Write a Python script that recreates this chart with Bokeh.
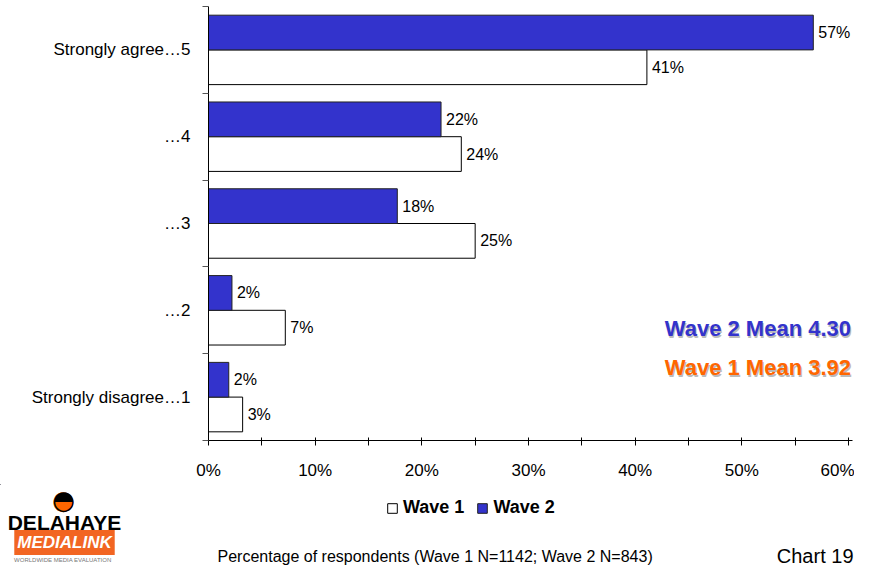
from bokeh.plotting import figure
from bokeh.layouts import column
from bokeh.models import (ColumnDataSource, FixedTicker, PrintfTickFormatter, Label,
                          LabelSet, Legend, LegendItem, Range1d)
from bokeh.core.properties import value
from bokeh.embed import file_html
from bokeh.resources import INLINE

# ---------------- data ----------------
categories = ["Strongly agree\u20265", "\u20264", "\u20263", "\u20262", "Strongly disagree\u20261"]
wave1 = [41.1, 23.7, 25.0, 7.2, 3.2]
wave2 = [56.7, 21.8, 17.7, 2.2, 1.9]
x_ticks = [0, 10, 20, 30, 40, 50, 60]
x_minor = [5, 15, 25, 35, 45, 55]
series_names = ["Wave 1", "Wave 2"]
mean_wave2 = "Wave 2 Mean 4.30"
mean_wave1 = "Wave 1 Mean 3.92"
footnote = "Percentage of respondents (Wave 1 N=1142; Wave 2 N=843)"
chart_no = "Chart 19"

BLUE = "#3333CC"
ORANGE = "#FF6600"
FONT = "Liberation Sans"

# ---------------- layout constants ----------------
W = 854
TOP, LEFT = 6, 208
FH = 434                      # frame height (6 -> 440)
PX_PER_PCT = 640 / 60         # 0% at 208, 60% at 848
FW = 644                      # frame reaches 852 so the "57%" label is not cut
RIGHT = W - LEFT - FW
BOTTOM = 44
H1 = TOP + FH + BOTTOM
H2 = 566 - H1
n = len(categories)
XEND = FW / PX_PER_PCT


def dx(page_x):
    return (page_x - LEFT) / PX_PER_PCT


def dy(page_y):
    return (TOP + FH - page_y) / FH * n


centers = [n - i - 0.5 for i in range(n)]
src1 = ColumnDataSource(dict(y=[c - 0.2 for c in centers], v=wave1,
                             lab=[f"{round(v)}%" for v in wave1]))
src2 = ColumnDataSource(dict(y=[c + 0.2 for c in centers], v=wave2,
                             lab=[f"{round(v)}%" for v in wave2]))

p = figure(width=W, height=H1, output_backend="svg", toolbar_location=None,
           x_range=Range1d(0, XEND), y_range=Range1d(0, n),
           min_border_left=LEFT, min_border_right=RIGHT, min_border_top=TOP,
           min_border_bottom=BOTTOM)
p.outline_line_color = None
p.xgrid.visible = False
p.ygrid.visible = False

r1 = p.hbar(y="y", right="v", left=0, height=0.4, source=src1,
            fill_color="white", line_color="black", line_width=1)
r2 = p.hbar(y="y", right="v", left=0, height=0.4, source=src2,
            fill_color=BLUE, line_color="#222222", line_width=1)

for s in (src1, src2):
    p.add_layout(LabelSet(x="v", y="y", text="lab", source=s, x_offset=5,
                          text_baseline="middle", text_align="left",
                          text_font=value(FONT), text_font_size=value("16px"),
                          text_color="black"))

# x axis
xa = p.xaxis[0]
xa.ticker = FixedTicker(ticks=x_ticks, minor_ticks=x_minor)
xa.formatter = PrintfTickFormatter(format="%d%%")
xa.axis_line_color = "black"
xa.major_tick_line_color = "black"
xa.minor_tick_line_color = "black"
xa.major_tick_in = 3
xa.major_tick_out = 5
xa.minor_tick_in = 3
xa.minor_tick_out = 5
xa.major_label_standoff = 15
xa.major_label_text_font = FONT
xa.major_label_text_font_size = "17px"
xa.major_label_text_color = "black"

# y axis
ya = p.yaxis[0]
ya.ticker = FixedTicker(ticks=centers, minor_ticks=list(range(n + 1)))
ya.major_label_overrides = {c: lab for c, lab in zip(centers, categories)}
ya.axis_line_color = "black"
ya.major_tick_in = 0
ya.major_tick_out = 0
ya.minor_tick_in = 0
ya.minor_tick_out = 6
ya.minor_tick_line_color = "#555555"
ya.major_label_standoff = 12
ya.major_label_text_font = FONT
ya.major_label_text_font_size = "17px"
ya.major_label_text_color = "black"

# mean annotations (with subtle shadow)
for txt, col, yy in ((mean_wave2, BLUE, 328), (mean_wave1, ORANGE, 367)):
    p.add_layout(Label(x=dx(851.5), y=dy(yy + 1.5), text=txt, text_align="right",
                       text_baseline="middle", text_font=FONT, text_font_style="bold",
                       text_font_size="22px", text_color="#BBBBBB"))
    p.add_layout(Label(x=dx(850.5), y=dy(yy), text=txt, text_align="right",
                       text_baseline="middle", text_font=FONT, text_font_style="bold",
                       text_font_size="22px", text_color=col))

# ---------------- bottom strip: legend, footnote, logo ----------------
q = figure(frame_width=W, frame_height=H2, output_backend="svg", toolbar_location=None,
           x_range=Range1d(0, W), y_range=Range1d(H1 + H2, H1),
           min_border_left=0, min_border_right=0, min_border_top=0, min_border_bottom=0)
q.axis.visible = False
q.xgrid.visible = False
q.ygrid.visible = False
q.outline_line_color = None
for fig in (p, q):
    if "frame_align" in fig.properties():
        fig.frame_align = False

# legend proxies: one off-canvas bar per series so that the legend can draw its swatch
proxy = ColumnDataSource(dict(y=[-1000], l=[-1000], r=[-999]))
d1 = q.hbar(y="y", left="l", right="r", height=1, source=proxy,
            fill_color="white", line_color="black")
d2 = q.hbar(y="y", left="l", right="r", height=1, source=proxy,
            fill_color=BLUE, line_color="#222222")
legend = Legend(items=[LegendItem(label=series_names[0], renderers=[d1]),
                       LegendItem(label=series_names[1], renderers=[d2])],
                orientation="horizontal", location=(386, H1 + H2 - 518),
                glyph_width=12, glyph_height=12, label_standoff=5, spacing=12,
                label_height=20, padding=0, margin=0, border_line_alpha=0,
                background_fill_alpha=0,
                label_text_font=FONT, label_text_font_style="bold",
                label_text_font_size="18px", label_text_color="black")
q.add_layout(legend)

q.add_layout(Label(x=217, y=556, text=footnote, text_align="left",
                   text_baseline="middle", text_font=FONT, text_font_size="16px",
                   text_color="black"))
q.add_layout(Label(x=853, y=555, text=chart_no, text_align="right",
                   text_baseline="middle", text_font=FONT, text_font_size="20px",
                   text_color="black"))

# logo (compressed a little to fit the page height)
q.add_layout(Label(x=63, y=499, text="\u25CF", text_align="center",
                   text_baseline="middle", text_font="DejaVu Sans", text_font_size="26px",
                   text_color=ORANGE))
q.add_layout(Label(x=63, y=499, text="\u25D3", text_align="center",
                   text_baseline="middle", text_font="DejaVu Sans", text_font_size="26px",
                   text_color="black"))
q.add_layout(Label(x=64, y=522, text="DELAHAYE", text_align="center",
                   text_baseline="middle", text_font=FONT, text_font_style="bold",
                   text_font_size="21px", text_color="black"))
q.add_layout(Label(x=64, y=542, text="MEDIALINK", text_align="center",
                   text_baseline="middle", text_font=FONT, text_font_style="bold italic",
                   text_font_size="17px", text_color="white",
                   background_fill_color="#F26522", padding=3))
q.add_layout(Label(x=64, y=559, text="WORLDWIDE  MEDIA  EVALUATION", text_align="center",
                   text_baseline="middle", text_font=FONT, text_font_size="6px",
                   text_color="#777777"))

layout = column(p, q, spacing=0)
open("out.html", "w").write(file_html(layout, INLINE))
